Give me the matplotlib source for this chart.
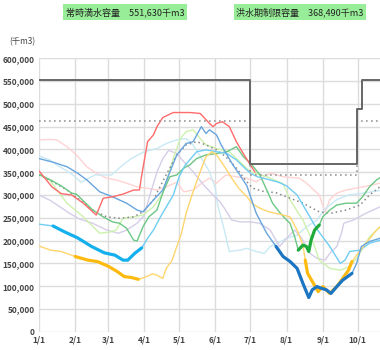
import numpy as np
import matplotlib.pyplot as plt

plt.rcParams['font.family'] = ['Noto Sans CJK JP', 'DejaVu Sans']

# day of year (1/1 = 0), storage in 1,000 x 千m3
month_days = [0, 31, 59, 90, 120, 151, 181, 212, 243, 273]
month_labels = ['1/1', '2/1', '3/1', '4/1', '5/1', '6/1', '7/1', '8/1', '9/1', '10/1']

limit_days = [0, 181, 272, 277, 292]
limit_vals = [551.63, 368.49, 488, 551.63, 551.63]
guide_days = [0, 181, 272, 292]
guide_vals = [463, 344, 463, 463]

avg_d = [0, 9, 24, 35, 46, 58, 69, 81, 89, 98, 102, 109, 118, 126, 135, 143, 152, 160, 169, 178, 183, 192, 203, 212, 226, 240, 250, 263, 275, 283, 292]
avg_v = [344, 333, 311, 289, 267, 252, 249, 252, 263, 289, 310, 345, 388, 410, 417, 410, 399, 384, 359, 329, 315, 308, 305, 296, 282, 263, 260, 267, 278, 300, 318]

pink_d = [0, 9, 15, 24, 32, 41, 49, 58, 66, 75, 84, 92, 101, 109, 118, 124, 132, 141, 146, 152, 160, 169, 178, 186, 198, 209, 223, 229, 240, 245, 249, 255, 263, 278, 292]
pink_v = [421, 422, 421, 406, 388, 362, 348, 337, 333, 326, 318, 315, 311, 318, 328, 307, 311, 329, 337, 326, 344, 340, 337, 329, 348, 340, 337, 326, 300, 262, 290, 304, 311, 318, 326]

pblue_d = [0, 9, 18, 29, 36, 48, 62, 70, 79, 90, 101, 109, 118, 126, 132, 141, 146, 151, 153, 158, 163, 172, 178, 186, 193, 198, 205, 212, 221, 229, 238, 245, 255, 265, 280, 292]
pblue_v = [386, 377, 362, 344, 328, 344, 344, 362, 380, 395, 402, 413, 421, 424, 410, 373, 351, 315, 278, 230, 176, 179, 183, 176, 172, 187, 195, 205, 212, 230, 245, 270, 290, 300, 305, 310]

lav_d = [0, 9, 18, 26, 35, 46, 58, 68, 75, 84, 90, 95, 101, 106, 111, 118, 124, 132, 141, 149, 155, 159, 165, 172, 181, 189, 198, 206, 212, 219, 225, 232, 238, 245, 249, 255, 259, 261, 269, 280, 292]
lav_v = [300, 289, 274, 260, 247, 238, 223, 216, 223, 238, 255, 300, 350, 380, 398, 391, 373, 351, 322, 300, 285, 270, 245, 241, 241, 238, 223, 187, 205, 223, 205, 172, 161, 157, 172, 187, 216, 238, 245, 260, 274]

lgreen_d = [0, 9, 24, 38, 52, 61, 66, 72, 81, 89, 98, 106, 115, 121, 126, 132, 138, 143, 152, 163, 172, 181, 195, 209, 215, 226, 235, 240, 249, 258, 266, 272, 278, 283, 292]
lgreen_v = [345, 333, 282, 252, 216, 219, 223, 249, 252, 256, 274, 304, 380, 424, 439, 443, 424, 410, 402, 395, 373, 351, 340, 325, 289, 245, 194, 157, 139, 135, 143, 161, 187, 208, 230]

green_d = [0, 10, 19, 28, 32, 46, 55, 63, 69, 75, 81, 84, 89, 94, 101, 106, 112, 118, 124, 129, 135, 143, 152, 161, 169, 175, 181, 189, 195, 200, 206, 212, 215, 219, 222, 226, 229, 231, 233, 236, 240, 243, 249, 255, 263, 272, 277, 283, 289, 292]
green_v = [345, 333, 320, 304, 302, 267, 252, 241, 238, 227, 201, 199, 230, 252, 267, 305, 340, 344, 359, 366, 380, 388, 391, 395, 406, 384, 370, 345, 311, 282, 262, 245, 238, 208, 179, 190, 187, 176, 201, 223, 234, 252, 267, 278, 282, 282, 296, 318, 333, 338]
green_thick = (222, 240)

sky_d = [0, 12, 22, 33, 45, 56, 65, 72, 76, 82, 88, 93, 98, 104, 109, 115, 120, 125, 135, 143, 152, 161, 169, 175, 181, 187, 195, 205, 212, 221, 229, 238, 249, 258, 262, 266, 275, 283, 292]
sky_v = [236, 232, 219, 206, 187, 173, 168, 157, 157, 172, 184, 205, 223, 252, 274, 300, 340, 365, 395, 399, 395, 391, 377, 362, 348, 340, 335, 328, 320, 300, 265, 225, 187, 150, 157, 176, 179, 194, 201]
sky_thick = (12, 88)

orange_d = [0, 10, 19, 28, 31, 42, 50, 59, 67, 73, 79, 85, 88, 93, 97, 101, 106, 109, 114, 118, 122, 126, 131, 138, 143, 148, 152, 158, 165, 171, 178, 183, 190, 197, 206, 215, 221, 226, 228, 230, 235, 239, 243, 249, 255, 259, 265, 268, 272, 280, 289, 292]
orange_v = [188, 179, 176, 168, 165, 157, 154, 144, 132, 121, 119, 115, 117, 122, 127, 124, 117, 139, 157, 187, 216, 260, 300, 351, 384, 395, 388, 366, 337, 315, 296, 280, 270, 263, 258, 252, 223, 190, 157, 128, 106, 88, 99, 84, 99, 113, 135, 154, 168, 194, 223, 230]
orange_thick = [(31, 85), (228, 268)]

steel_d = [0, 12, 24, 33, 41, 52, 63, 75, 84, 89, 98, 106, 112, 118, 126, 132, 139, 143, 146, 152, 156, 161, 166, 172, 178, 186, 195, 203, 209, 215, 221, 226, 231, 234, 238, 242, 246, 250, 255, 260, 268, 272, 276, 283, 292]
steel_v = [380, 372, 362, 348, 333, 307, 296, 282, 267, 263, 289, 311, 350, 388, 413, 417, 450, 435, 443, 432, 410, 388, 366, 344, 320, 260, 216, 187, 165, 154, 139, 106, 75, 92, 99, 95, 92, 84, 99, 113, 128, 150, 187, 198, 205]
steel_thick = (203, 268)

red_d = [0, 11, 19, 28, 38, 49, 55, 63, 72, 81, 86, 88, 91, 93, 98, 101, 106, 115, 129, 138, 146, 149, 152, 157, 163, 169, 174, 181, 185]
red_v = [353, 318, 303, 300, 282, 256, 293, 296, 302, 311, 311, 344, 388, 417, 432, 450, 470, 481, 481, 479, 457, 450, 457, 461, 450, 417, 395, 366, 350]


def draw(ax, d, v, color, lw=1.0, thick=None, thick_color=None, z=2):
    d = np.array(d)
    v = np.array(v) * 1000
    ax.plot(d, v, color=color, lw=lw, zorder=z, solid_capstyle='round')
    if thick is None:
        return
    if isinstance(thick, tuple):
        thick = [thick]
    for a, b in thick:
        m = (d >= a) & (d <= b)
        ax.plot(d[m], v[m], color=thick_color or color, lw=2.3, zorder=z + 1,
                solid_capstyle='round')


fig = plt.figure(figsize=(3.8, 3.5), dpi=100)
ax = fig.add_axes([39 / 380, 18.3 / 350, 341 / 380, 273.4 / 350])

draw(ax, pink_d, pink_v, '#ffd3d3')
draw(ax, pblue_d, pblue_v, '#c9e9f5')
draw(ax, lav_d, lav_v, '#d6cde8')
draw(ax, lgreen_d, lgreen_v, '#cdf2ad')
ax.plot(avg_d, np.array(avg_v) * 1000, color='#888888', lw=1.1, ls=(0, (1, 2)), zorder=3)
draw(ax, green_d, green_v, '#6cc784', thick=green_thick, thick_color='#1faa3c', z=4)
draw(ax, sky_d, sky_v, '#70cdf3', thick=sky_thick, thick_color='#14b0ee', z=4)
draw(ax, orange_d, orange_v, '#ffd56e', thick=orange_thick, thick_color='#ffba10', z=4)
draw(ax, steel_d, steel_v, '#68a5de', thick=steel_thick, thick_color='#1c75c2', z=6)
draw(ax, red_d, red_v, '#ff6b6b', z=6)

ax.plot(limit_days, np.array(limit_vals) * 1000, color='#666666', lw=1.4,
        drawstyle='steps-post', zorder=8)
ax.plot(guide_days, np.array(guide_vals) * 1000, color='#999999', lw=1.2,
        ls=(0, (1, 2)), drawstyle='steps-post', zorder=7)

ax.set_xlim(0, 292)
ax.set_ylim(0, 600000)
ax.set_xticks(month_days)
ax.set_xticklabels(month_labels)
ax.set_yticks(np.arange(0, 600001, 50000))
ax.set_yticklabels([f'{t:,}' for t in range(0, 600001, 50000)])
ax.tick_params(length=0, labelsize=6, labelcolor='#444444', pad=3)
for lab in ax.get_xticklabels() + ax.get_yticklabels():
    lab.set_fontweight('bold')
ax.grid(True, color='#dcdcdc', lw=1.0)
ax.set_axisbelow(True)
for s in ax.spines.values():
    s.set_visible(False)

box = dict(boxstyle='square,pad=0.3', fc='#98ee98', ec='none')
fig.text(125 / 380, 1 - 12 / 350, '常時満水容量　551,630千m3', ha='center', va='center',
         fontsize=6.5, color='#222222', bbox=box)
fig.text(300 / 380, 1 - 12 / 350, '洪水期制限容量　368,490千m3', ha='center', va='center',
         fontsize=6.5, color='#222222', bbox=box)
fig.text(22 / 380, 1 - 42 / 350, '(千m3)', ha='center', va='center',
         fontsize=6, color='#444444')

fig.savefig('out.png', dpi=100)
